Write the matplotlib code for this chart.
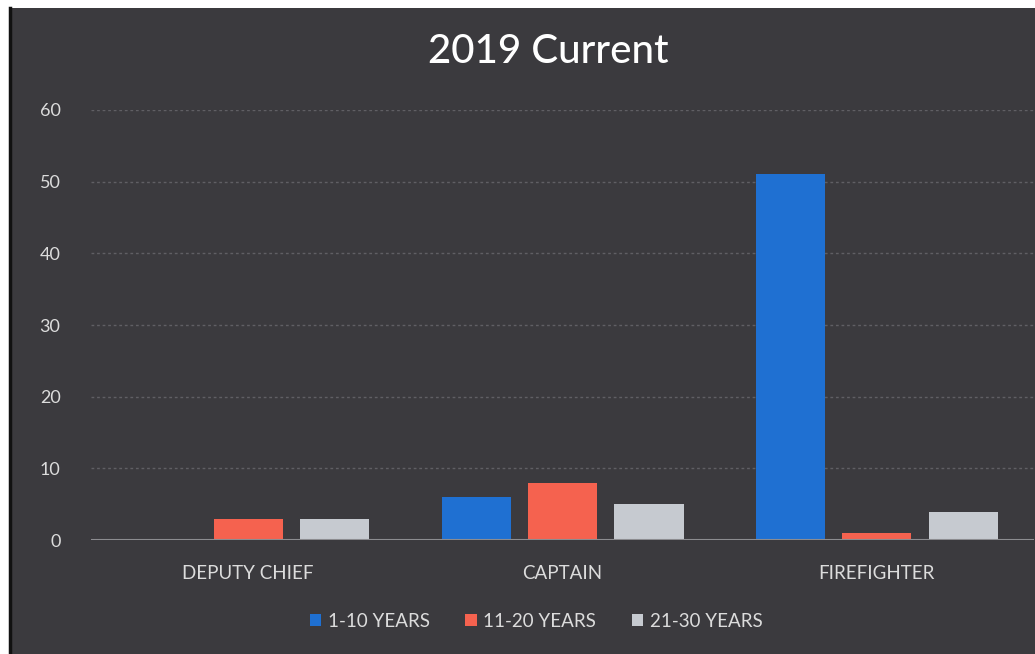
import numpy as np
import matplotlib
matplotlib.use("Agg")
import matplotlib.pyplot as plt
from matplotlib.patches import Rectangle

# Staffing by rank and years of service
ranks = ["DEPUTY CHIEF", "CAPTAIN", "FIREFIGHTER"]
series_names = ["1-10 YEARS", "11-20 YEARS", "21-30 YEARS"]
yrs_1_10 = [0, 6, 51]
yrs_11_20 = [3, 8, 1]
yrs_21_30 = [3, 5, 4]
y_ticks = [0, 10, 20, 30, 40, 50, 60]

colors = ["#1f70d2", "#f5624f", "#c6cad0"]
bg = "#3b3a3e"
text_col = "#dcdcdc"

plt.rcParams['font.family'] = ['Lato', 'DejaVu Sans']

fig = plt.figure(figsize=(10.35, 6.54), dpi=100, facecolor="white")

# dark chart panel with a thin black edge on the left
fig.patches.append(Rectangle((0.009, 0), 0.991, 0.988, transform=fig.transFigure,
                             facecolor=bg, edgecolor="none", zorder=-5))
fig.lines.append(plt.Line2D([0.0095, 0.0095], [0, 0.988], transform=fig.transFigure,
                            color="#111111", lw=2.5, zorder=-4))

ax = fig.add_axes([0.088, 0.174, 0.911, 0.658])
ax.set_facecolor("none")

x = np.arange(len(ranks))
w = 0.22
step = 0.275
for i, (vals, name) in enumerate(zip([yrs_1_10, yrs_11_20, yrs_21_30], series_names)):
    ax.bar(x + (i - 1) * step, vals, width=w, color=colors[i], label=name, zorder=3)

ax.set_xlim(-0.5, 2.5)
ax.set_ylim(0, 60)
ax.set_yticks(y_ticks)
ax.set_yticklabels([str(t) for t in y_ticks])
ax.set_xticks(x)
ax.set_xticklabels(ranks)
ax.tick_params(axis="y", length=0, pad=22, labelsize=13, labelcolor=text_col)
ax.tick_params(axis="x", length=0, pad=18, labelsize=13.5, labelcolor=text_col)

for t in y_ticks[1:]:
    ax.axhline(t, color="#605f64", lw=1, ls=(0, (2, 2)), zorder=1)
ax.axhline(0, color="#8c8c90", lw=1.5, zorder=4)

for s in ax.spines.values():
    s.set_visible(False)

fig.text(0.53, 0.922, "2019 Current", ha="center", va="center",
         fontsize=29, color="white", fontweight="medium")

leg = fig.legend(loc="center", bbox_to_anchor=(0.518, 0.05), ncol=3, frameon=False,
                 fontsize=13.5, handlelength=0.6, handleheight=0.6, handletextpad=0.35,
                 columnspacing=1.9, labelcolor=text_col)

fig.savefig("out.png", dpi=100, facecolor=fig.get_facecolor())
